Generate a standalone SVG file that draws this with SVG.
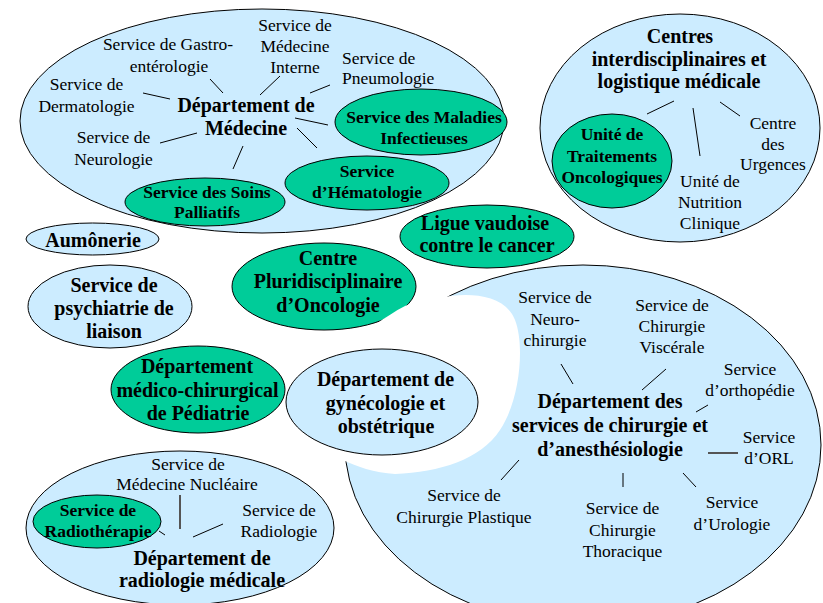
<svg xmlns="http://www.w3.org/2000/svg" width="823" height="603" viewBox="0 0 823 603">
<style>
.blue{fill:#CCECFF;stroke:#000;stroke-width:1}
.green{fill:#00CC99;stroke:#000;stroke-width:1}
text{font-family:"Liberation Serif","Times New Roman",serif;fill:#000;text-anchor:middle}
.n{font-size:17.5px}
.b{font-size:17.5px;font-weight:bold}
.t{font-size:20px;font-weight:bold}
.ln{stroke:#000;stroke-width:1;fill:none}
.gl{stroke:#555;stroke-width:2;fill:none}
</style>
<rect width="823" height="603" fill="#fff"/>

<g id="medecine">
<ellipse class="blue" cx="262" cy="121" rx="242" ry="112"/>
<text class="n" x="295" y="31">Service de</text>
<text class="n" x="295" y="52">Médecine</text>
<text class="n" x="295" y="73">Interne</text>
<text class="n" x="168" y="50">Service de Gastro-</text>
<text class="n" x="169" y="72">entérologie</text>
<text class="n" x="342" y="64" style="text-anchor:start">Service de</text>
<text class="n" x="342" y="84" style="text-anchor:start">Pneumologie</text>
<text class="n" x="86.5" y="90">Service de</text>
<text class="n" x="86.5" y="112">Dermatologie</text>
<text class="n" x="113.5" y="143">Service de</text>
<text class="n" x="113.5" y="165">Neurologie</text>
<text class="t" x="246" y="112">Département de</text>
<text class="t" x="246" y="135">Médecine</text>
</g>
<g id="maladies-infectieuses">
<ellipse class="green" cx="421" cy="122" rx="86" ry="33"/>
<text class="b" x="424" y="123">Service des Maladies</text>
<text class="b" x="424" y="144">Infectieuses</text>
</g>
<g id="hematologie">
<ellipse class="green" cx="367" cy="183" rx="82" ry="27"/>
<text class="b" x="367" y="177">Service</text>
<text class="b" x="367" y="198">d’Hématologie</text>
</g>
<g id="soins-palliatifs">
<ellipse class="green" cx="205" cy="202" rx="80" ry="24"/>
<text class="b" x="207" y="198">Service des Soins</text>
<text class="b" x="207" y="218">Palliatifs</text>
</g>

<g id="centres">
<ellipse class="blue" cx="680" cy="128" rx="140" ry="114"/>
<text class="t" x="680" y="43">Centres</text>
<text class="t" x="679" y="66">interdisciplinaires et</text>
<text class="t" x="679" y="88">logistique médicale</text>
<text class="n" x="773" y="129">Centre</text>
<text class="n" x="773" y="150">des</text>
<text class="n" x="773" y="170">Urgences</text>
<text class="n" x="710" y="187">Unité de</text>
<text class="n" x="710" y="208">Nutrition</text>
<text class="n" x="710" y="229">Clinique</text>
</g>
<g id="traitements-oncologiques">
<ellipse class="green" cx="612" cy="161" rx="60" ry="47"/>
<text class="b" x="612" y="140">Unité de</text>
<text class="b" x="612" y="162">Traitements</text>
<text class="b" x="612" y="183">Oncologiques</text>
</g>

<g id="ligue">
<ellipse class="green" cx="487" cy="236.5" rx="87" ry="31.5"/>
<text class="t" x="485" y="230">Ligue vaudoise</text>
<text class="t" x="487" y="252">contre le cancer</text>
</g>

<g id="aumonerie">
<ellipse class="blue" cx="92.5" cy="239" rx="66.5" ry="16"/>
<text class="t" x="93" y="247">Aumônerie</text>
</g>

<g id="psychiatrie">
<ellipse class="blue" cx="110" cy="306.5" rx="82" ry="41.5"/>
<text class="t" x="114" y="292">Service de</text>
<text class="t" x="114" y="315">psychiatrie de</text>
<text class="t" x="114" y="338">liaison</text>
</g>

<g id="pediatrie">
<ellipse class="green" cx="198" cy="389.5" rx="87" ry="43.5"/>
<text class="t" x="197" y="373">Département</text>
<text class="t" x="197.5" y="397">médico-chirurgical</text>
<text class="t" x="198" y="420">de Pédiatrie</text>
</g>

<g id="radiologie">
<ellipse class="blue" cx="180" cy="528" rx="154" ry="77"/>
<text class="n" x="188" y="470">Service de</text>
<text class="n" x="187" y="490">Médecine Nucléaire</text>
<text class="n" x="279" y="516">Service de</text>
<text class="n" x="279" y="537">Radiologie</text>
<text class="t" x="202" y="565">Département de</text>
<text class="t" x="202" y="587">radiologie médicale</text>
</g>
<g id="radiotherapie">
<ellipse class="green" cx="97" cy="521.5" rx="64" ry="26.5"/>
<text class="b" x="98" y="516">Service de</text>
<text class="b" x="98" y="537">Radiothérapie</text>
</g>

<g id="oncologie">
<ellipse class="green" cx="324" cy="286.5" rx="92" ry="43.5"/>
<text class="t" x="328" y="265">Centre</text>
<text class="t" x="328" y="288">Pluridisciplinaire</text>
<text class="t" x="328" y="312">d’Oncologie</text>
</g>

<g id="chirurgie">
<ellipse class="blue" cx="583" cy="445" rx="238" ry="180"/>
<path fill="#fff" d="M343,460 C310,430 325,350 376,324 C385,318 395,311 405,306 C418,300 428,299 440,298 C465,292 505,293 515,320 C525,345 520,400 500,430 C480,460 440,472 395,474 C375,473 355,466 343,460 Z"/>
<text class="n" x="555" y="303">Service de</text>
<text class="n" x="555" y="325">Neuro-</text>
<text class="n" x="555" y="346">chirurgie</text>
<text class="n" x="672" y="311">Service de</text>
<text class="n" x="672" y="332">Chirurgie</text>
<text class="n" x="672" y="353">Viscérale</text>
<text class="n" x="750" y="375">Service</text>
<text class="n" x="750" y="396">d’orthopédie</text>
<text class="n" x="769" y="443">Service</text>
<text class="n" x="769" y="464">d’ORL</text>
<text class="n" x="732" y="508">Service</text>
<text class="n" x="732" y="530">d’Urologie</text>
<text class="n" x="622.5" y="514">Service de</text>
<text class="n" x="622.5" y="536">Chirurgie</text>
<text class="n" x="622.5" y="557">Thoracique</text>
<text class="n" x="464" y="501">Service de</text>
<text class="n" x="464" y="523">Chirurgie Plastique</text>
<text class="t" x="610" y="408">Département des</text>
<text class="t" x="610" y="432">services de chirurgie et</text>
<text class="t" x="610" y="456">d’anesthésiologie</text>
</g>

<g id="gynecologie">
<ellipse class="blue" cx="382" cy="402" rx="96" ry="53"/>
<text class="t" x="385.5" y="386">Département de</text>
<text class="t" x="385.5" y="410">gynécologie et</text>
<text class="t" x="386" y="433">obstétrique</text>
</g>

<g id="connectors">
<line class="ln" x1="210" y1="79" x2="223" y2="93"/>
<line class="ln" x1="280" y1="76" x2="260" y2="95"/>
<line class="ln" x1="330" y1="85" x2="310" y2="93"/>
<line class="ln" x1="143" y1="93" x2="170" y2="99"/>
<line class="ln" x1="160" y1="143" x2="197" y2="133"/>
<line class="ln" x1="295" y1="118" x2="328" y2="125"/>
<line class="ln" x1="297" y1="128" x2="317" y2="148"/>
<line class="ln" x1="243" y1="146" x2="233" y2="169"/>
<line class="ln" x1="647" y1="114" x2="674" y2="101"/>
<line class="ln" x1="693" y1="108" x2="700" y2="156"/>
<line class="ln" x1="720" y1="102" x2="740" y2="116"/>
<line class="ln" x1="561" y1="364" x2="573" y2="384"/>
<line class="ln" x1="666" y1="369" x2="642" y2="390"/>
<line class="ln" x1="708" y1="405" x2="696" y2="412"/>
<line class="gl" x1="708" y1="453" x2="738" y2="453"/>
<line class="ln" x1="683" y1="473" x2="696" y2="487"/>
<line class="ln" x1="623" y1="473" x2="623" y2="487"/>
<line class="ln" x1="519" y1="460" x2="501" y2="480"/>
<line class="gl" x1="180" y1="495" x2="180" y2="529"/>
<line class="ln" x1="159" y1="531" x2="165" y2="535"/>
<line class="ln" x1="193" y1="537" x2="223" y2="524"/>
</g>
</svg>
